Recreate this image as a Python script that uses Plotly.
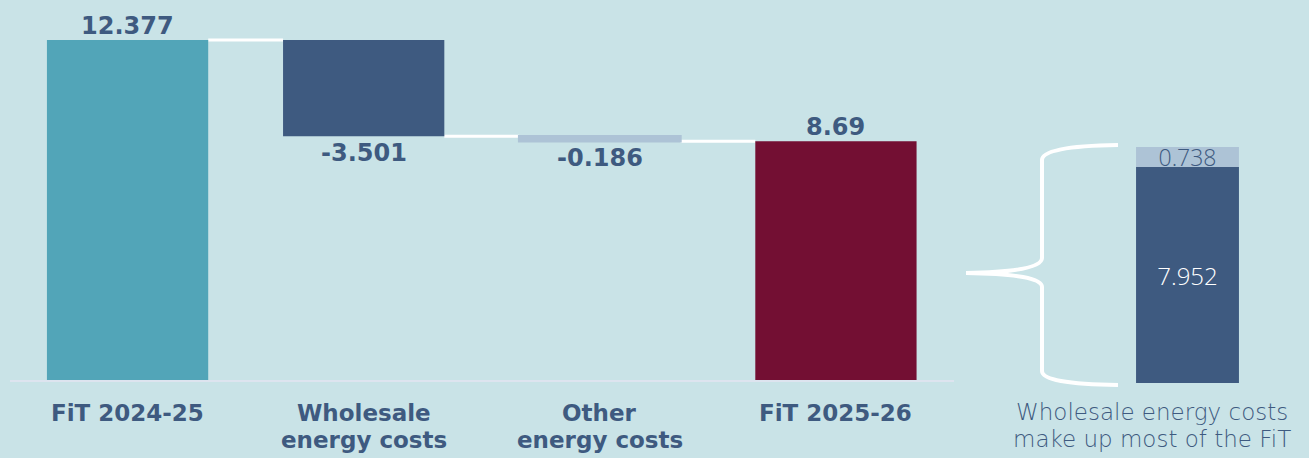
import plotly.graph_objects as go

# ---------------- data ----------------
categories = ["FiT 2024-25", "Wholesale<br>energy costs", "Other<br>energy costs", "FiT 2025-26"]
measures = ["absolute", "relative", "relative", "total"]
values = [12.377, -3.501, -0.186, 8.69]
value_labels = ["12.377", "-3.501", "-0.186", "8.69"]
bar_colors = ["#52A5B8", "#3E5A80", "#ADC3D6", "#730F33"]

breakdown_category = ["FiT 2025-26"]
breakdown_names = ["Wholesale energy costs", "Other energy costs"]
breakdown_values = [7.952, 0.738]
breakdown_labels = ["7.952", "0.738"]
breakdown_colors = ["#3E5A80", "#ADC3D6"]
breakdown_text_colors = ["#FFFFFF", "#3E5A80"]
note_lines = ["Wholesale energy costs", "make up most of the FiT"]

# ---------------- styling ----------------
W, H = 1309, 458
BG = "#C9E3E7"
TEXT = "#3E5A80"
BAR_W = 0.683
BOLD_FONT = "DejaVu Sans"

# waterfall bases from measures
bases, heights, levels = [], [], []
running = 0.0
for m, v in zip(measures, values):
    if m == "absolute":
        bases.append(0.0); heights.append(v); running = v
    elif m == "relative":
        bases.append(running); heights.append(v); running += v
    else:
        bases.append(0.0); heights.append(running)
    levels.append(running)

x_idx = list(range(len(categories)))
thin_line = [2.5 if abs(h) < 0.5 else 0 for h in heights]

fig = go.Figure()
fig.add_trace(go.Bar(
    x=x_idx, y=heights, base=bases, width=BAR_W,
    marker=dict(color=bar_colors, line=dict(width=thin_line, color=bar_colors)),
    hoverinfo="skip", showlegend=False,
    xaxis="x", yaxis="y",
))

# stacked breakdown bar
bd_base = 0.0
for name, v, lab, col, tcol, fs in zip(breakdown_names, breakdown_values, breakdown_labels,
                                       breakdown_colors, breakdown_text_colors, [24, 23]):
    fig.add_trace(go.Bar(
        x=breakdown_category, y=[v], base=[bd_base], name=name, width=0.7,
        marker=dict(color=col, line=dict(width=0)),
        text=[lab], textposition="inside", insidetextanchor="middle", constraintext="none",
        textfont=dict(family="Open Sans", size=fs, color=tcol, weight=300),
        cliponaxis=False, hoverinfo="skip", showlegend=False,
        xaxis="x2", yaxis="y2",
    ))
    bd_base += v

shapes = []
# connectors
for i in range(len(categories) - 1):
    shapes.append(dict(type="line", xref="x", yref="y",
                       x0=i + BAR_W / 2, x1=i + 1 - BAR_W / 2,
                       y0=levels[i], y1=levels[i],
                       line=dict(color="white", width=3), layer="below"))

# curly brace (decoration, pixel geometry converted to paper coords)
def X(px):
    return px / W

def Y(py):
    return 1 - py / H

brace = (f"M {X(1118)},{Y(145)} Q {X(1042)},{Y(146)} {X(1042)},{Y(160)} "
         f"L {X(1042)},{Y(258)} Q {X(1042)},{Y(272)} {X(966)},{Y(273)} "
         f"Q {X(1042)},{Y(274)} {X(1042)},{Y(287)} "
         f"L {X(1042)},{Y(371)} Q {X(1042)},{Y(384)} {X(1118)},{Y(385)}")
shapes.append(dict(type="path", xref="paper", yref="paper", path=brace,
                   line=dict(color="white", width=4)))

annotations = []
# value labels at the end of each bar
for i, (b, h, lab) in enumerate(zip(bases, heights, value_labels)):
    end = b + h
    up = h >= 0
    annotations.append(dict(
        x=i, xref="x", y=end, yref="y", text=lab, showarrow=False,
        xanchor="center", yanchor="bottom" if up else "top",
        yshift=-1 if up else -2, borderpad=0,
        font=dict(family=BOLD_FONT, size=24, color=TEXT, weight="bold"),
    ))

# category labels (one annotation per line)
for i, cat in enumerate(categories):
    for j, line in enumerate(cat.split("<br>")):
        annotations.append(dict(
            x=i, xref="x", y=Y(427.4 + 27 * j), yref="paper",
            text=line, showarrow=False, xanchor="center", yanchor="bottom",
            borderpad=0,
            font=dict(family=BOLD_FONT, size=23, color=TEXT, weight="bold"),
        ))
# note text
for j, line in enumerate(note_lines):
    annotations.append(dict(
        x=X(1152), xref="paper", y=Y(426.4 + 27 * j), yref="paper",
        text=line, showarrow=False, xanchor="center", yanchor="bottom",
        borderpad=0,
        font=dict(family="DejaVu Sans", size=23, color=TEXT, weight=200),
    ))

fig.update_layout(
    width=W, height=H,
    margin=dict(l=0, r=0, t=0, b=0),
    paper_bgcolor=BG, plot_bgcolor=BG,
    barmode="overlay", showlegend=False,
    xaxis=dict(domain=[9.5 / W, 954 / W], range=[-0.5, len(categories) - 0.5],
               showticklabels=False, ticks="", showgrid=False, zeroline=False,
               showline=True, linecolor="#DDE4EF", linewidth=2, fixedrange=True),
    yaxis=dict(domain=[(H - 380) / H, 1], range=[0, 380 / 27.47], visible=False,
               fixedrange=True),
    xaxis2=dict(domain=[1114 / W, 1261 / W], range=[-0.5, 0.5], anchor="y2",
                visible=False, fixedrange=True),
    yaxis2=dict(domain=[(H - 383) / H, 1], range=[0, 383 / 27.16], anchor="x2",
                visible=False, fixedrange=True),
    shapes=shapes,
    annotations=annotations,
)

fig.write_html("out.html", config={"displayModeBar": False},
               post_script="document.body.style.margin='0';document.body.style.overflow='hidden';")
